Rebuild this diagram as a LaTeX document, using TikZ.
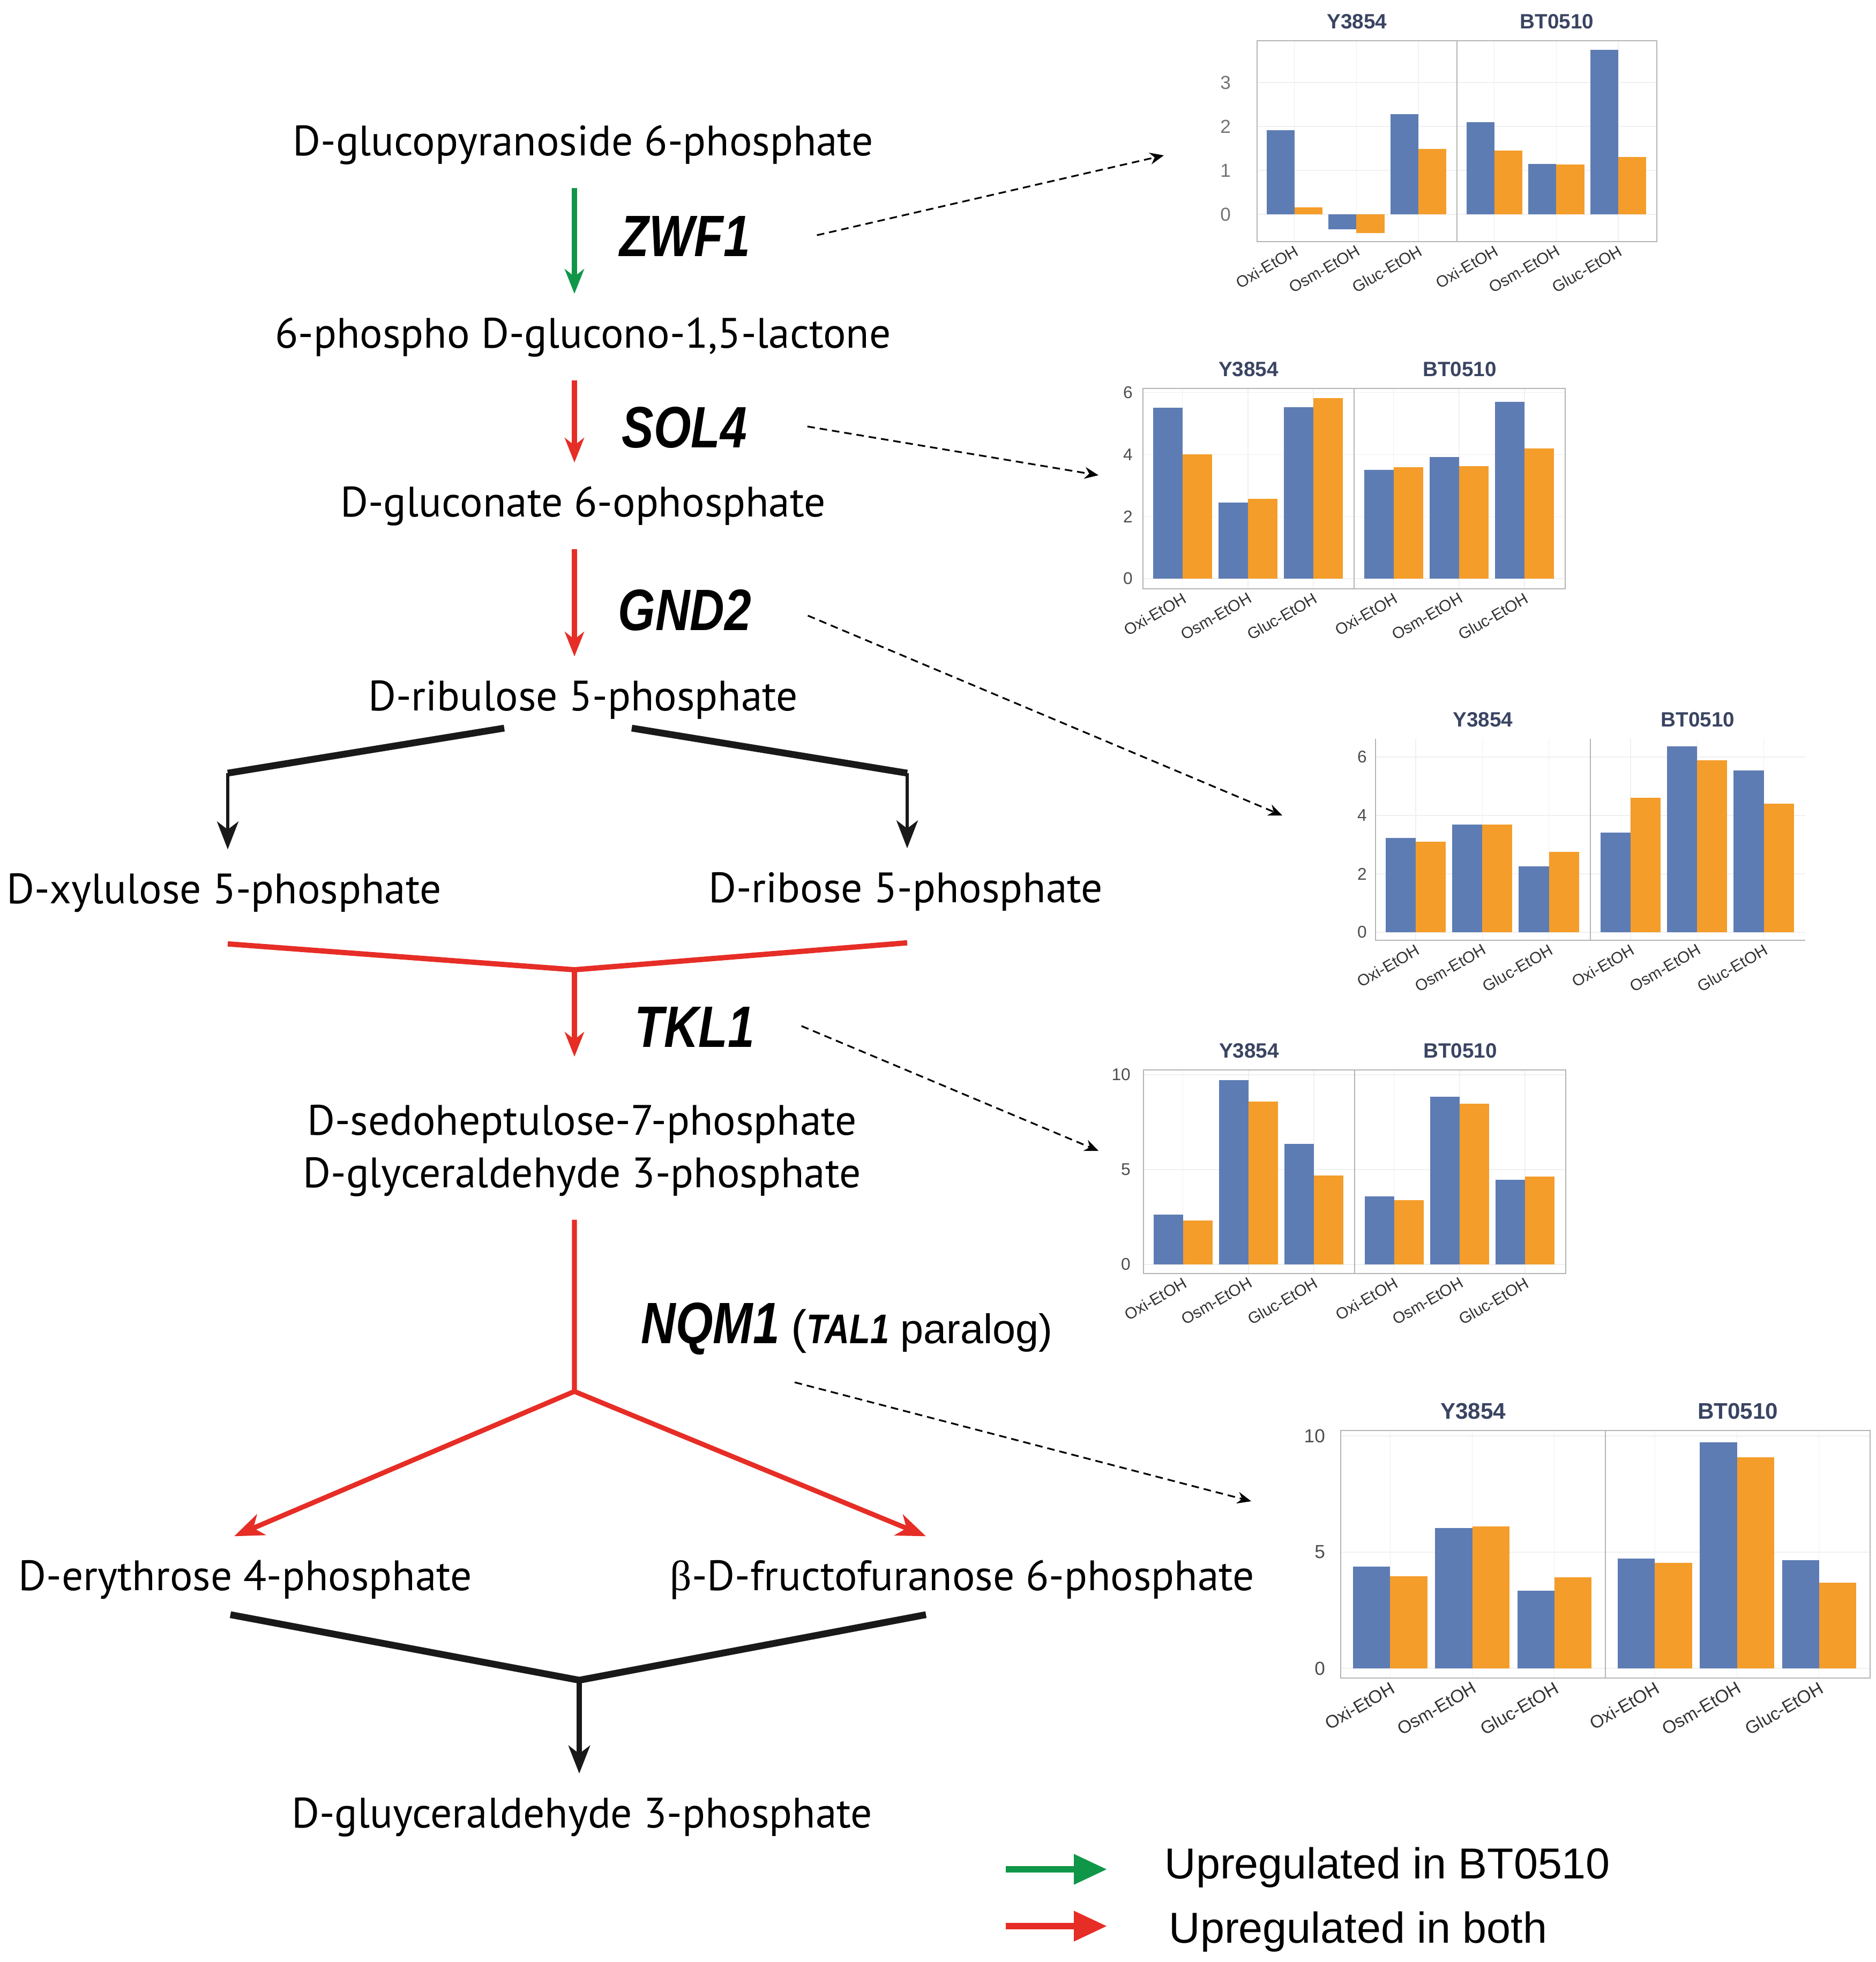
\documentclass[tikz,border=0pt]{standalone}
\usepackage{fontspec}
\usepackage{graphicx}
\setmainfont{PT Sans}
\newfontfamily\arialfont{Liberation Sans}
\newfontfamily\grkfont{Liberation Serif}
\usetikzlibrary{arrows.meta}

\definecolor{pathgreen}{RGB}{16,150,72}
\definecolor{pathred}{RGB}{230,45,38}
\definecolor{barblue}{RGB}{94,124,180}
\definecolor{barorange}{RGB}{244,157,42}
\definecolor{titleblue}{RGB}{58,68,98}
\definecolor{ticktext}{RGB}{77,77,77}
\definecolor{panelgray}{RGB}{180,180,180}
\definecolor{gridgray}{RGB}{240,240,240}

\newcommand{\gene}[1]{\scalebox{0.82}[1]{\arialfont\bfseries\itshape #1}}
\newcommand{\panelbox}[2]{%
  \draw[panelline] (0,#2) rectangle (1,#1);
  \draw[panelline] (1,#2) rectangle (2,#1);}
\newcommand{\gridset}[3]{%
  \foreach \t in {#1} {\draw[gridline] (0,\t) -- (2,\t);}
  \foreach \p in {0,1} {\foreach \k in {0,1,2} {\draw[gridline] (\p+0.187+0.31*\k,#3) -- (\p+0.187+0.31*\k,#2);}}}
\newcommand{\barset}[2]{%
  \foreach \bv/\ov [count=\k from 0] in {#2} {%
    \fill[barblue] (#1+0.047+0.31*\k,0) rectangle ++(0.14,\bv);
    \fill[barorange] (#1+0.187+0.31*\k,0) rectangle ++(0.14,\ov);}}
\newcommand{\xlabset}[2]{%
  \foreach \p in {0,1} {\foreach \l [count=\k from 0] in {Oxi-EtOH,Osm-EtOH,Gluc-EtOH} {%
    \node[xlab] (#1x\p\k) at (\p+0.187+0.31*\k,#2) {\l};}}}
\newcommand{\ylabset}[3]{%
  \foreach \t in {#2} {\node[ylab, xshift=#3] (#1y\t) at (0,\t) {\t};}}
\newcommand{\titleset}[2]{%
  \node[ctitle] (#1a) at (0.5,#2) {Y3854};
  \node[ctitle] (#1b) at (1.5,#2) {BT0510};}

\begin{document}
\begin{tikzpicture}
\tikzset{
  metab/.style={font=\fontsize{22.6}{28}\selectfont, text height=0.6cm, text depth=0.2cm, inner xsep=0pt, inner ysep=0.4cm, anchor=base},
  genelab/.style={font=\fontsize{31}{36}\selectfont, text height=0.78cm, text depth=0pt, inner sep=0pt, anchor=west},
  grnarr/.style={draw=pathgreen, line width=2.6pt, -{Stealth[length=4.6mm,width=3.6mm,inset=1.4mm]}},
  redarr/.style={draw=pathred, line width=2.6pt, -{Stealth[length=4.6mm,width=3.6mm,inset=1.4mm]}},
  redline/.style={draw=pathred, line width=2.8pt},
  blkline/.style={draw=black!90, line width=3.6pt},
  blkarr/.style={draw=black!90, line width=1.8pt, -{Stealth[length=5.2mm,width=4mm,inset=1.5mm]}},
  dasharr/.style={draw=black, line width=0.9pt, dash pattern=on 4pt off 2.6pt, -{Stealth[length=2.6mm,width=2.2mm]}},
  legarr/.style={line width=3.4pt, -{Triangle[length=6.2mm,width=5.4mm]}},
  legtext/.style={font=\arialfont\fontsize{23}{28}\selectfont, inner sep=0pt, anchor=base west},
  panelline/.style={draw=panelgray, line width=0.5pt},
  gridline/.style={draw=gridgray, line width=0.4pt},
  xlab/.style={font=\arialfont\fontsize{8.5}{10}\selectfont, text=black!80, anchor=north east, rotate=30, inner sep=1pt},
  ylab/.style={font=\arialfont\fontsize{9}{11}\selectfont, text=ticktext, anchor=east, inner sep=1pt},
  ctitle/.style={font=\arialfont\bfseries\fontsize{11}{13}\selectfont, text=titleblue, yshift=0.36cm}
}
\useasboundingbox (0,0) rectangle (35,-36.62);

% pathway
\coordinate (spine) at (10.72,0);
\node[metab] (glc) at (10.88,-2.90) {D-glucopyranoside 6-phosphate};
\node[metab] (lac) at (10.88,-6.49) {6-phospho D-glucono-1,5-lactone};
\node[metab] (gnt) at (10.88,-9.64) {D-gluconate 6-ophosphate};
\node[metab] (rib) at (10.88,-13.26) {D-ribulose 5-phosphate};
\node[metab] (xyl) at (4.18,-16.86) {D-xylulose 5-phosphate};
\node[metab] (r5p) at (16.90,-16.84) {D-ribose 5-phosphate};
\node[metab] (s7p) at (10.86,-21.18) {D-sedoheptulose-7-phosphate};
\node[metab] (g3p) at (10.86,-22.16) {D-glyceraldehyde 3-phosphate};
\node[metab] (e4p) at (4.58,-29.68) {D-erythrose 4-phosphate};
\node[metab] (f6p) at (17.96,-29.68) {{\grkfont β}-D-fructofuranose 6-phosphate};
\node[metab] (gap) at (10.86,-34.11) {D-gluyceraldehyde 3-phosphate};

\node[genelab] (zwf) at (11.56,-4.39) {\gene{ZWF1}};
\node[genelab] (sol) at (11.60,-7.96) {\gene{SOL4}};
\node[genelab] (gnd) at (11.53,-11.37) {\gene{GND2}};
\node[genelab] (tkl) at (11.84,-19.15) {\gene{TKL1}};
\node[genelab] (nqm) at (11.96,-24.68) {\gene{NQM1}{\fontsize{22}{26}\selectfont\arialfont\ {\fontsize{25}{26}\selectfont(}\gene{TAL1} paralog)}};

\coordinate (rbl) at (9.41,-13.59);
\coordinate (rbr) at (11.79,-13.59);
\coordinate (xylk) at (4.25,-14.43);
\coordinate (r5pk) at (16.93,-14.43);
\coordinate (tkj) at (10.72,-18.10);
\coordinate (nqj) at (10.72,-25.97);
\coordinate (gapj) at (10.81,-31.36);

\draw[grnarr] (glc.south -| spine) -- (lac.north -| spine);
\draw[redarr] (lac.south -| spine) -- (gnt.north -| spine);
\draw[redarr] (gnt.south -| spine) -- (rib.north -| spine);
\draw[blkline] (rbl) -- (xylk);
\draw[blkline] (rbr) -- (r5pk);
\draw[blkarr] (xylk) -- (xyl.north -| xylk);
\draw[blkarr] (r5pk) -- (r5p.north -| r5pk);
\draw[redline] ([yshift=-0.15cm]xyl.south -| xylk) -- (tkj) -- ([yshift=-0.15cm]r5p.south -| r5pk);
\draw[redarr, shorten >=0.45cm] (tkj) -- (s7p.north -| tkj);
\draw[redarr, -{Stealth[length=5.5mm,width=4.2mm,inset=1.6mm]}] (g3p.south -| spine) -- (nqj) -- ([xshift=-0.21cm]e4p.north);
\draw[redarr, -{Stealth[length=5.5mm,width=4.2mm,inset=1.6mm]}] (nqj) -- ([xshift=-0.68cm]f6p.north);
\draw[blkline] ([xshift=-0.28cm,yshift=0.15cm]e4p.south) -- (gapj) -- ([xshift=-0.68cm,yshift=0.15cm]f6p.south);
\draw[blkarr, line width=3pt] (gapj) -- (gap.north -| gapj);

% charts
\coordinate (c1in) at (21.72,-2.90);
\coordinate (c2in) at (20.50,-8.87);
\coordinate (c3in) at (23.93,-15.22);
\coordinate (c4in) at (20.50,-21.48);
\coordinate (c5in) at (23.35,-28.02);
\draw[dasharr] ([xshift=1.24cm]zwf.east) -- (c1in);
\draw[dasharr] ([xshift=1.12cm]sol.east) -- (c2in);
\draw[dasharr] ([xshift=1.05cm,yshift=-0.12cm]gnd.east) -- (c3in);
\draw[dasharr] ([xshift=0.87cm]tkl.east) -- (c4in);
\draw[dasharr] ([xshift=2.87cm,yshift=-1.12cm]nqm.west) -- (c5in);

\begin{scope}[shift={(23.46,-4.00)}, x=3.73cm, y=0.82cm,
  ylab/.append style={text=black!55, font=\arialfont\fontsize{10}{12}\selectfont}]
\gridset{0,1,2,3}{3.95}{-0.62}
\barset{0}{1.91/0.16,-0.34/-0.43,2.28/1.49}
\barset{1}{2.10/1.45,1.15/1.14,3.74/1.30}
\panelbox{3.95}{-0.62}
\ylabset{ca}{0,1,2,3}{-0.45cm}
\xlabset{ca}{-0.62}
\titleset{ca}{3.95}
\end{scope}

\begin{scope}[shift={(21.33,-10.80)}, x=3.94cm, y=0.579cm]
\gridset{0,2,4,6}{6.13}{-0.33}
\barset{0}{5.51/4.01,2.45/2.57,5.53/5.82}
\barset{1}{3.51/3.59,3.92/3.62,5.70/4.20}
\panelbox{6.13}{-0.33}
\ylabset{cb}{0,2,4,6}{-0.15cm}
\xlabset{cb}{-0.33}
\titleset{cb}{6.13}
\end{scope}

\begin{scope}[shift={(25.67,-17.40)}, x=4.01cm, y=0.545cm]
\gridset{0,2,4,6}{6.62}{-0.28}
\barset{0}{3.23/3.10,3.68/3.68,2.26/2.75}
\barset{1}{3.42/4.61,6.37/5.89,5.55/4.40}
\draw[panelline] (0,6.62) -- (0,-0.28) -- (2,-0.28);
\draw[panelline] (1,6.62) -- (1,-0.28);
\ylabset{cc}{0,2,4,6}{-0.12cm}
\xlabset{cc}{-0.28}
\titleset{cc}{6.62}
\end{scope}

\begin{scope}[shift={(21.34,-23.60)}, x=3.94cm, y=0.354cm]
\gridset{0,5,10}{10.25}{-0.48}
\barset{0}{2.64/2.31,9.73/8.59,6.36/4.68}
\barset{1}{3.59/3.40,8.85/8.47,4.47/4.63}
\panelbox{10.25}{-0.48}
\ylabset{cd}{0,5,10}{-0.2cm}
\xlabset{cd}{-0.48}
\titleset{cd}{10.25}
\end{scope}

\begin{scope}[shift={(25.02,-31.14)}, x=4.94cm, y=0.434cm,
  xlab/.append style={font=\arialfont\fontsize{9.5}{11}\selectfont},
  ylab/.append style={font=\arialfont\fontsize{10}{12}\selectfont},
  ctitle/.append style={font=\arialfont\bfseries\fontsize{12}{14}\selectfont}]
\gridset{0,5,10}{10.23}{-0.41}
\barset{0}{4.38/3.96,6.04/6.10,3.35/3.92}
\barset{1}{4.72/4.53,9.72/9.08,4.65/3.69}
\panelbox{10.23}{-0.41}
\ylabset{ce}{0,5,10}{-0.25cm}
\xlabset{ce}{-0.41}
\titleset{ce}{10.23}
\end{scope}

% legend
\coordinate (lg1) at (18.77,-34.89);
\coordinate (lg2) at (18.77,-35.95);
\node[legtext] (leg1) at (21.73,-35.06) {Upregulated in BT0510};
\node[legtext] (leg2) at (21.81,-36.26) {Upregulated in both};
\draw[legarr, draw=pathgreen, shorten >=1.07cm] (lg1) -- (lg1 -| leg1.west);
\draw[legarr, draw=pathred, shorten >=1.15cm] (lg2) -- (lg2 -| leg2.west);
\end{tikzpicture}
\end{document}
